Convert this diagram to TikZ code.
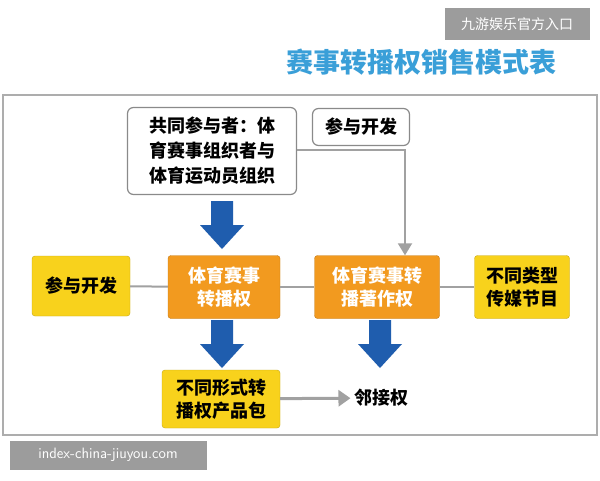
\documentclass[tikz,border=0pt]{standalone}
\usepackage{fontspec}
\newfontfamily\cjk{Noto Sans CJK SC}
\usetikzlibrary{positioning,arrows.meta}
\definecolor{ylw}{HTML}{F8D21C}
\definecolor{org}{HTML}{F29A1F}
\definecolor{blu}{HTML}{1F5DAE}
\definecolor{ttl}{HTML}{3A9FD8}
\definecolor{gry}{HTML}{8A8A8A}
\tikzset{
 ybox/.style={fill=ylw,draw=ylw!80!black,rounded corners=3pt,align=center,font=\cjk\bfseries\fontsize{18}{23}\selectfont,inner sep=0},
 obox/.style={fill=org,draw=org!80!black,rounded corners=3pt,align=center,text=white,font=\cjk\bfseries\fontsize{18}{23}\selectfont,inner sep=0},
 wbox/.style={fill=white,draw=gry,line width=1.2pt,rounded corners=6pt,align=center,font=\cjk\bfseries\fontsize{18}{25}\selectfont,inner sep=0},
 glink/.style={draw=gry!80,line width=2pt},
 barrow/.style={fill=blu},
}
\newcommand{\blockarrow}[1]{\fill[barrow] ($(#1)+(-11,-24)$) -- ($(#1)+(11,-24)$) -- ($(#1)+(11,0)$) -- ($(#1)+(22,0)$) -- ($(#1)+(0,24)$) -- ($(#1)+(-22,0)$) -- ($(#1)+(-11,0)$) -- cycle;}
\usetikzlibrary{calc}
\begin{document}
\begin{tikzpicture}[x=1pt,y=-1pt]
\useasboundingbox (0,0) rectangle (600,480);
\fill[white] (0,0) rectangle (600,480);
\node[fill=gry!85,text=white,font=\cjk\fontsize{14}{16}\selectfont,minimum width=145pt,minimum height=32pt] (brand) at (517,24) {九游娱乐官方入口};
\node[text=ttl,font=\cjk\bfseries\fontsize{27}{30}\selectfont] (title) at (421,62) {赛事转播权销售模式表};
\draw[gry!70,line width=1.5pt] (3,95) rectangle (597,435);
\node[wbox,minimum width=169pt,minimum height=87pt] (co) at (212,151) {共同参与者：体\\育赛事组织者与\\体育运动员组织};
\node[wbox,minimum width=97pt,minimum height=37pt] (dev1) at (361,127) {参与开发};
\node[ybox,minimum width=98pt,minimum height=60pt] (dev2) at (81,286) {参与开发};
\node[obox,minimum width=112pt,minimum height=63pt] (o1) at (224,287) {体育赛事\\转播权};
\node[obox,minimum width=125pt,minimum height=63pt] (o2) at (377,287) {体育赛事转\\播著作权};
\node[ybox,minimum width=95pt,minimum height=63pt] (media) at (522,287) {不同类型\\传媒节目};
\node[ybox,minimum width=118pt,minimum height=58pt] (pkg) at (221,399) {不同形式转\\播权产品包};
\node[font=\cjk\bfseries\fontsize{18}{20}\selectfont] (adj) at (381,398) {邻接权};
\draw[glink] (dev2) -- (o1);
\draw[glink] (o1) -- (o2);
\draw[glink] (o2) -- (media);
\draw[glink,-{Triangle[length=12pt,width=14pt]}] (co.east|-0,150) -| (o2.north-|405,0);
\draw[glink,line width=3pt,-{Triangle[length=12pt,width=16pt]}] (pkg) -- (adj);
\coordinate (a1) at (222,225);
\coordinate (a2) at (222,344);
\coordinate (a3) at (380,344);
\blockarrow{a1}
\blockarrow{a2}
\blockarrow{a3}
\node[fill=gry!85,text=white,font=\sffamily\fontsize{15}{17}\selectfont,minimum width=197pt,minimum height=29pt] (wm) at (108,455) {index-china-jiuyou.com};
\end{tikzpicture}
\end{document}
